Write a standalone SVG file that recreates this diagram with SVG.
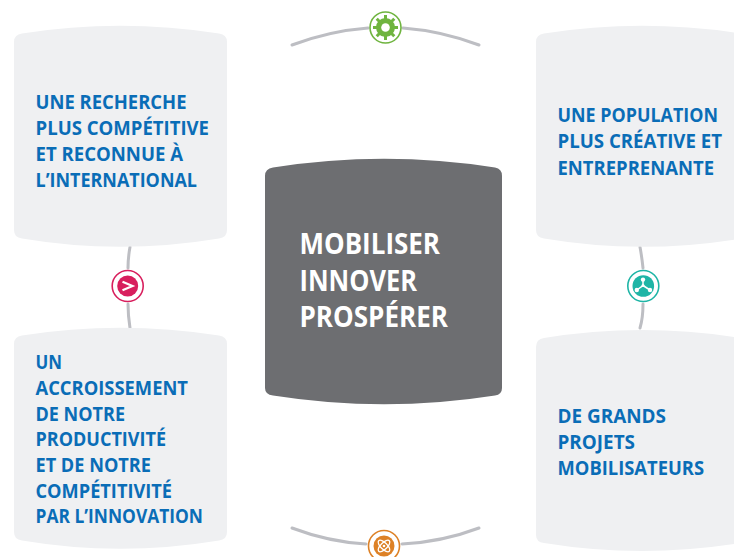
<svg xmlns="http://www.w3.org/2000/svg" width="734" height="557" viewBox="0 0 734 557">
<style>
.box{fill:#eff0f2}
.t{font-family:"Open Sans","Noto Sans","Liberation Sans",sans-serif;font-weight:700;font-size:19px;fill:#0a6db7}
.m{font-family:"Open Sans","Noto Sans","Liberation Sans",sans-serif;font-weight:700;font-size:29px;fill:#fff}
.c{fill:none;stroke:#bdbec3;stroke-width:3;stroke-linecap:round}
.ring{fill:#fff;stroke-width:1.6}
</style>
<g id="connectors">
<path class="c" d="M292 45Q329 31 368 28"/>
<path class="c" d="M403 28Q442 31 479 45"/>
<path class="c" d="M292 528Q329 542 366 544"/>
<path class="c" d="M402 544Q442 542 479 528"/>
<path class="c" d="M130 247Q128 258 128 268"/>
<path class="c" d="M128 304Q128 315 130 328"/>
<path class="c" d="M640 247Q642 258 643 268"/>
<path class="c" d="M643 304Q643 318 640 328"/>
</g>
<g id="box-recherche">
<path class="box" d="M22 33.500Q120 18 219 33.500Q227 34.500 227 42V230Q227 237.500 219 238.500Q120 255 22 238.500Q14 237.500 14 230V42Q14 34.500 22 33.500Z"/>
<text class="t" x="35.500" y="108.700" textLength="151" lengthAdjust="spacingAndGlyphs">UNE RECHERCHE</text>
<text class="t" x="35.500" y="134.700" textLength="173.500" lengthAdjust="spacingAndGlyphs">PLUS COMPÉTITIVE</text>
<text class="t" x="35.500" y="160.700" textLength="147.500" lengthAdjust="spacingAndGlyphs">ET RECONNUE À</text>
<text class="t" x="35.500" y="186.700" textLength="161.500" lengthAdjust="spacingAndGlyphs">L’INTERNATIONAL</text>
</g>
<g id="box-population">
<path class="box" d="M544 33.500Q642 18 741 33.500Q749 34.500 749 42V230Q749 237.500 741 238.500Q642 255 544 238.500Q536 237.500 536 230V42Q536 34.500 544 33.500Z"/>
<text class="t" x="557.500" y="121.700" textLength="160.500" lengthAdjust="spacingAndGlyphs">UNE POPULATION</text>
<text class="t" x="557.500" y="147.700" textLength="164.500" lengthAdjust="spacingAndGlyphs">PLUS CRÉATIVE ET</text>
<text class="t" x="557.500" y="174.700" textLength="156.500" lengthAdjust="spacingAndGlyphs">ENTREPRENANTE</text>
</g>
<g id="box-accroissement">
<path class="box" d="M22 335.500Q120 320 219 335.500Q227 336.500 227 344V532Q227 539.500 219 540.500Q120 557 22 540.500Q14 539.500 14 532V344Q14 336.500 22 335.500Z"/>
<text class="t" x="35.500" y="368.500" textLength="26.500" lengthAdjust="spacingAndGlyphs">UN</text>
<text class="t" x="35.500" y="394.500" textLength="152.500" lengthAdjust="spacingAndGlyphs">ACCROISSEMENT</text>
<text class="t" x="35.500" y="420.500" textLength="89.500" lengthAdjust="spacingAndGlyphs">DE NOTRE</text>
<text class="t" x="35.500" y="445.700" textLength="130.500" lengthAdjust="spacingAndGlyphs">PRODUCTIVITÉ</text>
<text class="t" x="35.500" y="471.700" textLength="115.500" lengthAdjust="spacingAndGlyphs">ET DE NOTRE</text>
<text class="t" x="35.500" y="497.700" textLength="136.500" lengthAdjust="spacingAndGlyphs">COMPÉTITIVITÉ</text>
<text class="t" x="35.500" y="522.700" textLength="167.500" lengthAdjust="spacingAndGlyphs">PAR L’INNOVATION</text>
</g>
<g id="box-projets">
<path class="box" d="M544 338Q642 322 741 338Q749 339 749 347V535Q749 542 741 543Q642 559 544 543Q536 542 536 535V347Q536 339 544 338Z"/>
<text class="t" x="557.500" y="422.700" textLength="108.500" lengthAdjust="spacingAndGlyphs">DE GRANDS</text>
<text class="t" x="557.500" y="448.700" textLength="77.500" lengthAdjust="spacingAndGlyphs">PROJETS</text>
<text class="t" x="557.500" y="474.700" textLength="146.500" lengthAdjust="spacingAndGlyphs">MOBILISATEURS</text>
</g>
<g id="center">
<path d="M273 167.500Q384 150 495 167.500Q502 168.500 502 176V388Q502 394.500 495 395.500Q384 413 273 395.500Q265 394.500 265 388V176Q265 168.500 273 167.500Z" fill="#6d6e71"/>
<text class="m" x="299.500" y="253.500" textLength="140.500" lengthAdjust="spacingAndGlyphs">MOBILISER</text>
<text class="m" x="299.500" y="290.500" textLength="117.500" lengthAdjust="spacingAndGlyphs">INNOVER</text>
<text class="m" x="299.500" y="327" textLength="148.500" lengthAdjust="spacingAndGlyphs">PROSPÉRER</text>
</g>
<g id="icon-gear">
<circle class="ring" cx="385.500" cy="27.500" r="15.500" stroke="#6fb43f"/>
<circle cx="385.500" cy="27.500" r="9.500" fill="#6fb43f"/>
<path d="M385.500 15V40M373 27.500H398M376.700 18.700L394.300 36.300M394.300 18.700L376.700 36.300" stroke="#6fb43f" stroke-width="3"/>
<circle cx="385.500" cy="27.500" r="4.300" fill="#fff"/>
</g>
<g id="icon-arrow">
<circle class="ring" cx="127.700" cy="286" r="15.500" stroke="#d81f5d"/>
<circle cx="127.700" cy="286" r="10.500" fill="#d81f5d"/>
<path d="M122.500 281.800L132.500 286L122.500 290.200" fill="none" stroke="#fff" stroke-width="2.200"/>
</g>
<g id="icon-network">
<circle class="ring" cx="643.300" cy="286" r="15.500" stroke="#1fb5a6"/>
<circle cx="643.300" cy="286" r="10.800" fill="#1fb5a6"/>
<path d="M643 280V285.500L636.800 290M643 285.500L650 290" fill="none" stroke="#fff" stroke-width="1.500"/>
<circle cx="643" cy="279.600" r="2.200" fill="#fff"/>
<circle cx="636.800" cy="290" r="2.200" fill="#fff"/>
<circle cx="650" cy="290" r="2.200" fill="#fff"/>
<circle cx="643" cy="285.500" r="1.500" fill="#fff"/>
</g>
<g id="icon-atom">
<circle class="ring" cx="384" cy="546" r="15.500" stroke="#dd8126"/>
<circle cx="384" cy="546" r="10.500" fill="#dd8126"/>
<ellipse cx="384" cy="546" rx="7.500" ry="3.300" transform="rotate(45 384 546)" fill="none" stroke="#fff" stroke-width="1.300"/>
<ellipse cx="384" cy="546" rx="7.500" ry="3.300" transform="rotate(-45 384 546)" fill="none" stroke="#fff" stroke-width="1.300"/>
<circle cx="384" cy="546" r="1.300" fill="#fff"/>
</g>
</svg>
